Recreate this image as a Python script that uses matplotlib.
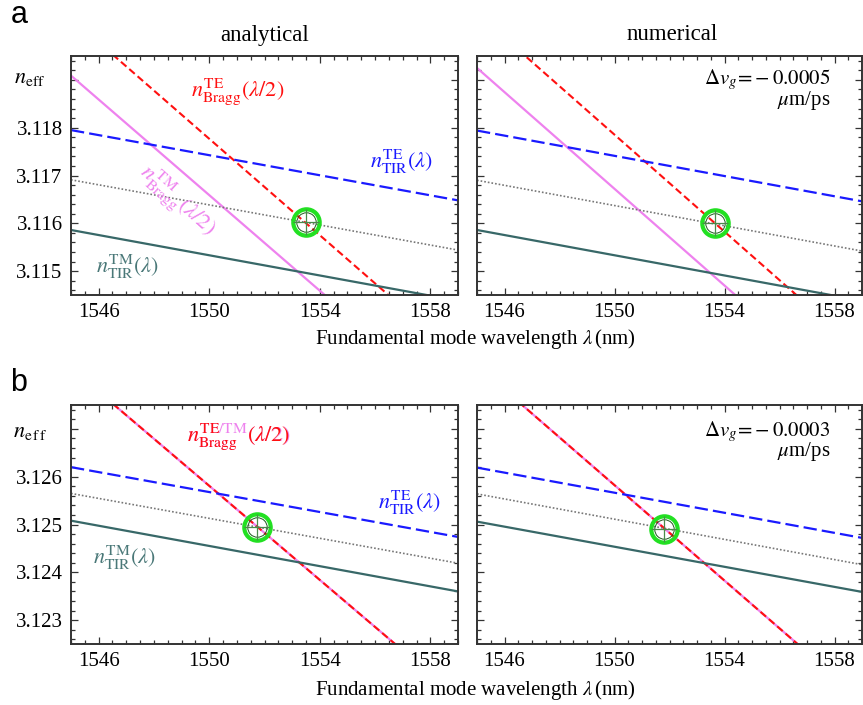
import numpy as np
import matplotlib.pyplot as plt
from matplotlib.ticker import MultipleLocator, FixedLocator

plt.rcParams['font.family'] = ['Liberation Serif', 'DejaVu Serif']
plt.rcParams['mathtext.fontset'] = 'stix'

# wavelength at the two ends of each straight line (nm)
lam = [1545.0, 1559.0]

# panel a - analytical
a_ana_te_tir = [3.11795, 3.11648]
a_ana_dot = [3.11691, 3.11544]
a_ana_tm_tir = [3.11586, 3.11438]
a_ana_te_bragg = [3.12029, 3.11323]
a_ana_tm_bragg = [3.11909, 3.11209]
a_ana_cross = (1553.5, 3.11602)

# panel a - numerical
a_num_te_tir = [3.11794, 3.11646]
a_num_dot = [3.11690, 3.11542]
a_num_tm_tir = [3.11586, 3.11438]
a_num_te_bragg = [3.12039, 3.11329]
a_num_tm_bragg = [3.11925, 3.11217]
a_num_cross = (1553.65, 3.11600)

# panel b - analytical
b_ana_te_tir = [3.12620, 3.12474]
b_ana_dot = [3.12565, 3.12419]
b_ana_tm_tir = [3.12508, 3.12360]
b_ana_te_bragg = [3.12827, 3.12138]
b_ana_tm_bragg = [3.12827, 3.12138]
b_ana_cross = (1551.73, 3.12495)

# panel b - numerical
b_num_te_tir = [3.12619, 3.12472]
b_num_dot = [3.12564, 3.12416]
b_num_tm_tir = [3.12506, 3.12359]
b_num_te_bragg = [3.12832, 3.12133]
b_num_tm_bragg = [3.12832, 3.12133]
b_num_cross = (1551.8, 3.12491)

dv_a = '-0.0005'
dv_b = '-0.0003'

TEAL = '#386868'
PINK = '#ee82ee'
RED = '#ff1010'
BLUE = '#1a1aff'

fig = plt.figure(figsize=(8.63, 7.05), dpi=100)
W, H = 863.0, 705.0


def px_axes(l, t, r, b):
    return fig.add_axes([l / W, 1 - b / H, (r - l) / W, (b - t) / H])


def draw(ax, te_tir, dot, tm_tir, te_bragg, tm_bragg, cross, ylim, yticks, ylabels):
    ax.plot(lam, tm_bragg, color=PINK, lw=1.6)
    ax.plot(lam, te_bragg, color=RED, lw=1.5, ls=(0, (3.5, 1.8)))
    ax.plot(lam, te_tir, color=BLUE, lw=1.6, ls=(0, (6, 2.3)))
    ax.plot(lam, dot, color='#777777', lw=1.2, ls=(0, (1, 1.2)))
    ax.plot(lam, tm_tir, color=TEAL, lw=1.6)
    ax.plot(*cross, marker='o', ms=19, mfc='none', mec='#22e022', mew=3.0)
    ax.plot(*cross, marker='o', ms=14, mfc='none', mec='#1d5a1d', mew=0.7)
    ax.plot(*cross, marker='+', ms=19, mec='#4a8a4a', mew=0.9)
    ax.set_xlim(1545, 1559)
    ax.set_ylim(*ylim)
    ax.xaxis.set_major_locator(FixedLocator([1546, 1550, 1554, 1558]))
    ax.xaxis.set_minor_locator(MultipleLocator(0.5))
    ax.yaxis.set_major_locator(FixedLocator(yticks))
    ax.yaxis.set_minor_locator(MultipleLocator(0.0002))
    ax.set_yticklabels(ylabels)
    ax.tick_params(which='both', direction='in', top=True, right=True,
                   labelsize=15, color='#333333', width=0.9)
    ax.tick_params(which='major', length=5, pad=6)
    ax.tick_params(which='minor', length=3)
    for s in ax.spines.values():
        s.set_color('#333333')
        s.set_linewidth(1.4)


ticks_a = [3.115, 3.116, 3.117, 3.118, 3.119]
labels_a = ['3.115', '3.116', '3.117', '3.118', '']
ticks_b = [3.123, 3.124, 3.125, 3.126, 3.127]
labels_b = ['3.123', '3.124', '3.125', '3.126', '']

ax1 = px_axes(71, 56, 458, 295)
ax2 = px_axes(477, 56, 862, 295)
ax3 = px_axes(71, 405, 458, 644)
ax4 = px_axes(477, 405, 862, 644)

draw(ax1, a_ana_te_tir, a_ana_dot, a_ana_tm_tir, a_ana_te_bragg, a_ana_tm_bragg,
     a_ana_cross, (3.1145, 3.1195), ticks_a, labels_a)
draw(ax2, a_num_te_tir, a_num_dot, a_num_tm_tir, a_num_te_bragg, a_num_tm_bragg,
     a_num_cross, (3.1145, 3.1195), ticks_a, [''] * 5)
draw(ax3, b_ana_te_tir, b_ana_dot, b_ana_tm_tir, b_ana_te_bragg, b_ana_tm_bragg,
     b_ana_cross, (3.1225, 3.1275), ticks_b, labels_b)
draw(ax4, b_num_te_tir, b_num_dot, b_num_tm_tir, b_num_te_bragg, b_num_tm_bragg,
     b_num_cross, (3.1225, 3.1275), ticks_b, [''] * 5)

# curve labels, panel a
fs = 16
ax1.text(1551.04, 3.11875, r'$n^{\mathrm{TE}}_{\mathrm{Bragg}}(\lambda/2)$', color=RED,
         fontsize=fs, ha='center', va='center')
ax1.text(1556.96, 3.11728, r'$n^{\mathrm{TE}}_{\mathrm{TIR}}(\lambda)$', color=BLUE,
         fontsize=fs, ha='center', va='center')
ax1.text(1547.04, 3.11508, r'$n^{\mathrm{TM}}_{\mathrm{TIR}}(\lambda)$', color='#4a7878',
         fontsize=fs, ha='center', va='center')
ax1.text(1548.85, 3.11647, r'$n^{\mathrm{TM}}_{\mathrm{Bragg}}(\lambda/2)$', color=PINK,
         fontsize=fs, ha='center', va='center', rotation=-42, rotation_mode='anchor')

# curve labels, panel b  (TE red, /TM pink: pink full string, red parts on top)
x0, y0 = 1549.2, 3.12675
full = ax3.text(x0, y0, r'$n^{\mathrm{TE/TM}}_{\mathrm{Bragg}}(\lambda/2)$', color=PINK,
                fontsize=fs, ha='left', va='baseline')
ax3.text(x0, y0, r'$n^{\mathrm{TE}}_{\mathrm{Bragg}}$', color=RED,
         fontsize=fs, ha='left', va='baseline')
fig.canvas.draw()
bb = full.get_window_extent(fig.canvas.get_renderer())
ybase = ax3.transData.transform((x0, y0))[1]
fig.text(bb.x1 / fig.bbox.width, ybase / fig.bbox.height, r'$(\lambda/2)$', color=RED,
         fontsize=fs, ha='right', va='baseline')

ax3.text(1557.25, 3.12545, r'$n^{\mathrm{TE}}_{\mathrm{TIR}}(\lambda)$', color=BLUE,
         fontsize=fs, ha='center', va='center')
ax3.text(1546.93, 3.12430, r'$n^{\mathrm{TM}}_{\mathrm{TIR}}(\lambda)$', color='#4a7878',
         fontsize=fs, ha='center', va='center')

# group velocity mismatch notes
for ax, dv, yy in [(ax2, dv_a, 0.9), (ax4, dv_b, 0.89)]:
    ax.text(0.917, yy, r'$\Delta v_g\!=\!' + dv + '$', transform=ax.transAxes,
            fontsize=15, ha='right', va='center')
    ax.text(0.917, yy - 0.085, r'$\mu$m/ps', transform=ax.transAxes,
            fontsize=15, ha='right', va='center')

# titles, axis labels, panel letters
fig.text(264.5 / W, 1 - 35 / H, 'analytical', fontsize=16.5, ha='center', va='center')
fig.text(672 / W, 1 - 35 / H, 'numerical', fontsize=16.5, ha='center', va='center')
for yy in [339, 690]:
    fig.text(475 / W, 1 - yy / H, r'Fundamental mode wavelength $\lambda\,$(nm)',
             fontsize=15, ha='center', va='center')
fig.text(30 / W, 1 - 78 / H, r'$n_{\mathrm{eff}}$', fontsize=16, ha='center', va='center')
fig.text(30 / W, 1 - 432 / H, r'$n_{\mathrm{e\,f\,f}}$', fontsize=16, ha='center', va='center')
fig.text(19 / W, 1 - 15 / H, 'a', fontsize=22, family='Liberation Sans', ha='center', va='center')
fig.text(19 / W, 1 - 383 / H, 'b', fontsize=22, family='Liberation Sans', ha='center', va='center')

plt.savefig('out.png', dpi=100)
plt.close()
